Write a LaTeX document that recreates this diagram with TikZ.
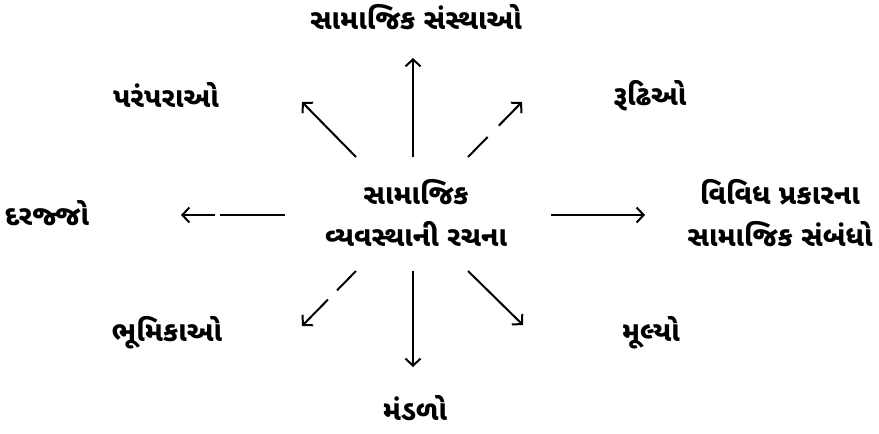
\documentclass[tikz,border=0pt]{standalone}
\usepackage{fontspec}
\newfontfamily\guj[Script=Gujarati]{Noto Sans Gujarati UI}
\usetikzlibrary{arrows.meta}
\tikzset{
  lbl/.style={font=\guj\bfseries\fontsize{28}{42}\selectfont, align=center, inner sep=0pt},
  arr/.style={line width=2pt, -{Straight Barb[length=7pt,width=15pt,line width=2pt]}}
}
\begin{document}
\begin{tikzpicture}[x=1pt,y=-1pt]
\useasboundingbox (0,0) rectangle (879,434);
\node[lbl] (c) at (416,213) {સામાજિક\\વ્યવસ્થાની રચના};
\node[lbl] (n) at (416,17) {સામાજિક સંસ્થાઓ};
\node[lbl] (nw) at (166,95) {પરંપરાઓ};
\node[lbl] (ne) at (650,96) {રૂઢિઓ};
\node[lbl] (w) at (47,213) {દરજ્જો};
\node[lbl] (e) at (780,213) {વિવિધ પ્રકારના\\સામાજિક સંબંધો};
\node[lbl] (sw) at (167,333) {ભૂમિકાઓ};
\node[lbl] (se) at (651,333) {મૂલ્યો};
\node[lbl] (s) at (415,408) {મંડળો};
\coordinate (an0) at (413,157); \coordinate (an1) at (413,58);
\coordinate (anw0) at (356,157); \coordinate (anw1) at (302,102);
\coordinate (ane0) at (468,157); \coordinate (ane1) at (522,102);
\coordinate (aw0) at (285,215); \coordinate (aw1) at (181,215);
\coordinate (ae0) at (551,215); \coordinate (ae1) at (645,215);
\coordinate (asw0) at (356,271); \coordinate (asw1) at (302,326);
\coordinate (as0) at (413,271); \coordinate (as1) at (413,367);
\coordinate (ase0) at (468,271); \coordinate (ase1) at (523,325);
\draw[arr] (an0) -- (an1);
\draw[arr] (anw0) -- (anw1);
\draw[arr, dash pattern=on 28pt off 16pt on 300pt] (ane0) -- (ane1);
\draw[arr, dash pattern=on 65pt off 5pt on 300pt] (aw0) -- (aw1);
\draw[arr] (ae0) -- (ae1);
\draw[arr, dash pattern=on 27pt off 13pt on 300pt] (asw0) -- (asw1);
\draw[arr] (as0) -- (as1);
\draw[arr] (ase0) -- (ase1);
\end{tikzpicture}
\end{document}
